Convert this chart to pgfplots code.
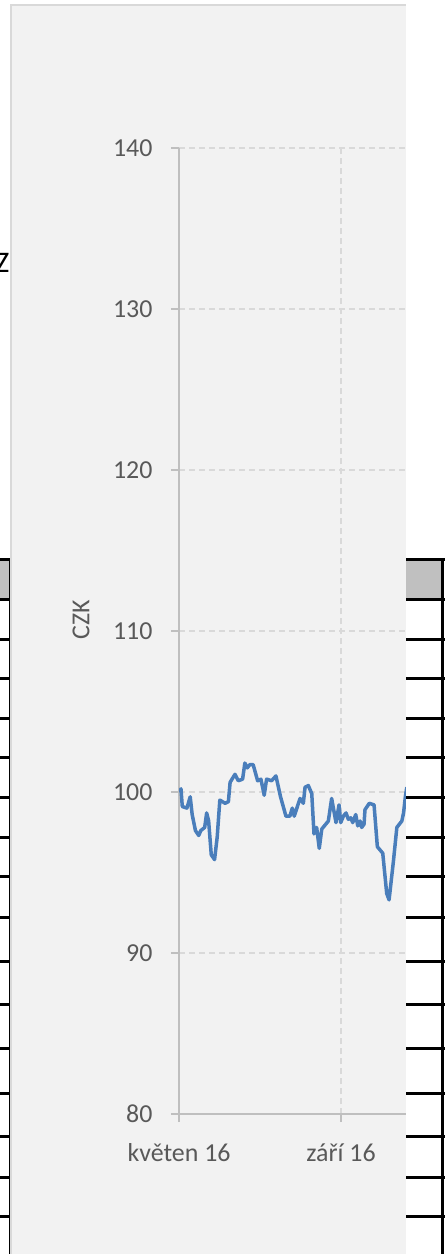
\documentclass[border=0pt]{standalone}
\usepackage{fontspec}
\setmainfont{Carlito}
\usepackage{pgfplots}
\pgfplotsset{compat=1.18}
\usepackage{pgfplotstable}
\definecolor{chartbg}{HTML}{F2F2F2}
\definecolor{chartborder}{HTML}{D9D9D9}
\definecolor{axisgray}{HTML}{BFBFBF}
\definecolor{gridgray}{HTML}{D9D9D9}
\definecolor{textgray}{HTML}{595959}
\definecolor{lineblue}{HTML}{4A7EBB}
\definecolor{headgray}{HTML}{C0C0C0}

% days since 1 May 2016, price in CZK
\pgfplotstableread{
d v
0 100.0
1.5 100.2
2.5 99.1
6 99.0
8.5 99.7
10 98.6
12.5 97.6
15 97.3
16.5 97.6
19.5 97.8
21 98.7
22.5 98.2
24.5 96.1
27 95.8
29 97.2
31 99.5
35 99.3
37.5 99.4
38.8 100.6
42.5 101.1
45 100.7
48.3 100.8
50 101.8
51.8 101.5
53.8 101.7
56.3 101.7
59.7 100.7
62.2 100.8
64.7 99.8
66.5 100.8
70.3 100.7
73.6 101.0
77.1 99.7
81.2 98.5
84.2 98.5
86 99.0
87.5 98.5
91.9 99.6
94.4 99.3
95.7 100.3
98.2 100.4
100.8 99.9
102.5 97.4
104.5 97.8
106.5 96.5
108.4 97.7
113.4 98.2
115.9 99.6
119.2 98.1
121.5 99.2
122.8 98.1
124.8 98.5
126.8 98.7
128.6 98.3
130.4 98.4
131.9 98.1
134.2 98.6
135.7 97.9
137.5 98.2
138.7 97.8
140.5 98.0
141.2 98.9
144.5 99.3
148.1 99.2
150.6 96.6
154.7 96.2
157.7 93.7
159.5 93.3
162.8 95.7
165.4 97.8
169.2 98.2
170.5 98.7
172.0 99.8
173.0 100.3
}\pricedata

\begin{document}
\begin{tikzpicture}
\path[use as bounding box, fill=white] (0,0) rectangle (448bp,-1254bp);
\begin{scope}[x=1bp,y=-1bp]
  % chart area
  \fill[chartbg] (11,5) rectangle (406,1260);
  \draw[chartborder, line width=1.5bp] (11,1260) -- (11,5) -- (406,5);
  % left table fragment
  \node[anchor=base east, inner sep=0pt, font=\fontsize{30}{34}\selectfont] at (9.5,272.5) {Z};
  \fill[headgray] (0,561) rectangle (9,598);
  \foreach \yy in {559.5,599.5,639,678.5,718.5,757.5,797.5,837.5,876.5,917.5,961,1004.5,1048.5,1093,1136.5,1177,1216.5}
    \draw[black, line width=3bp] (-1,\yy) -- (9.5,\yy);
  \draw[black, line width=1.5bp] (9.3,558) -- (9.3,1260);
\end{scope}

\begin{axis}[
  at={(179bp,-1114bp)}, anchor=south west,
  scale only axis, width=227bp, height=966bp,
  xmin=0, xmax=172.35, ymin=80, ymax=140,
  axis x line=bottom, axis y line=left,
  axis line style={-, color=axisgray, line width=1.3bp},
  xtick={0,123}, xticklabels={květen 16, září 16},
  ytick={80,90,...,140},
  tick align=outside, major tick length=8bp,
  tick style={color=axisgray, line width=1.3bp},
  grid=major,
  major grid style={dash pattern=on 6bp off 4bp, color=gridgray, line width=1.1bp},
  ticklabel style={font=\fontsize{26}{30}\selectfont, text=textgray},
  yticklabel style={xshift=-15bp},
  xticklabel style={yshift=-18bp},
  /pgf/number format/assume math mode=true,
  ylabel={CZK},
  every axis y label/.style={at={(axis description cs:-0.4317,0.512)}, rotate=90, anchor=center, font=\fontsize{26}{30}\selectfont, text=textgray},
]
\addplot[color=lineblue, line width=3.5bp, line join=round, no marks] table[x=d, y=v] {\pricedata};
\end{axis}

\begin{scope}[x=1bp,y=-1bp]
  % right table fragment
  \fill[white] (406,-2) rectangle (450,1256);
  \fill[headgray] (406,561) rectangle (441,598);
  \foreach \yy in {559.5,599.5,639,678.5,718.5,757.5,797.5,837.5,876.5,917.5,961,1004.5,1048.5,1093,1136.5,1177,1216.5}
    \draw[black, line width=3bp] (406,\yy) -- (445,\yy);
  \draw[black, line width=3.5bp] (442.5,558) -- (442.5,1260);
\end{scope}
\end{tikzpicture}
\end{document}
